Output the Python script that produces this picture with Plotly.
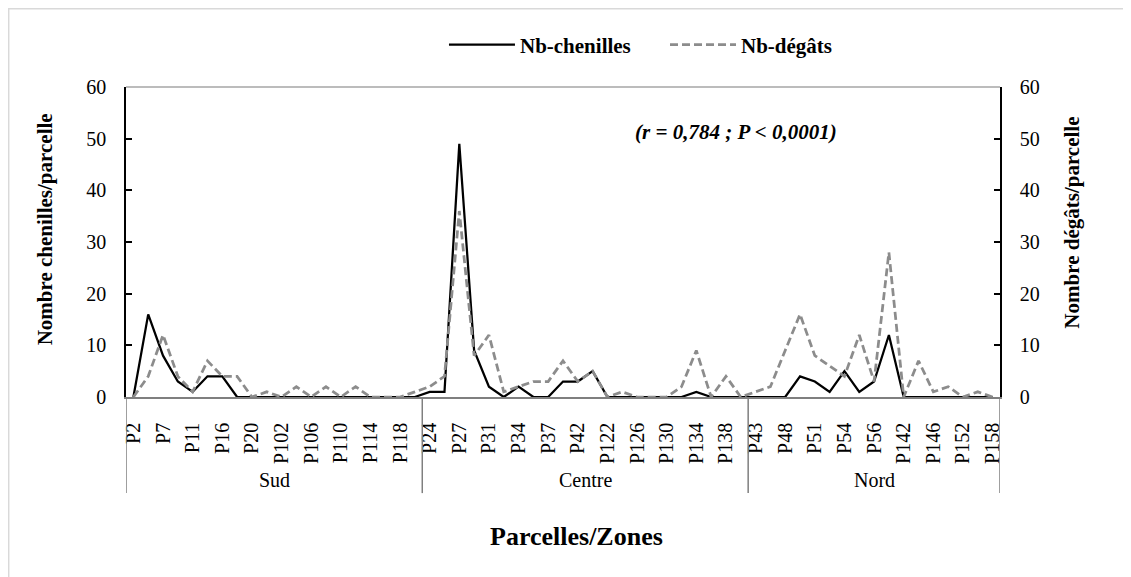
import plotly.graph_objects as go

# ---------------- data ----------------
zones = ["Sud", "Centre", "Nord"]

parcelles_sud = ["P2", "P5", "P7", "P9", "P11", "P14", "P16", "P18", "P20", "P100",
                 "P102", "P104", "P106", "P108", "P110", "P112", "P114", "P116", "P118", "P120"]
parcelles_centre = ["P24", "P26", "P27", "P29", "P31", "P33", "P34", "P36", "P37", "P40",
                    "P42", "P121", "P122", "P124", "P126", "P128", "P130", "P132", "P134",
                    "P136", "P138", "P140"]
parcelles_nord = ["P43", "P46", "P48", "P50", "P51", "P53", "P54", "P55", "P56", "P141",
                  "P142", "P144", "P146", "P150", "P152", "P155", "P158"]

chenilles_sud = [0, 16, 8, 3, 1, 4, 4, 0, 0, 0, 0, 0, 0, 0, 0, 0, 0, 0, 0, 0]
chenilles_centre = [1, 1, 49, 9, 2, 0, 2, 0, 0, 3, 3, 5, 0, 0, 0, 0, 0, 0, 1, 0, 0, 0]
chenilles_nord = [0, 0, 0, 4, 3, 1, 5, 1, 3, 12, 0, 0, 0, 0, 0, 0, 0]

degats_sud = [0, 4, 12, 4, 1, 7, 4, 4, 0, 1, 0, 2, 0, 2, 0, 2, 0, 0, 0, 1]
degats_centre = [2, 4, 36, 8, 12, 1, 2, 3, 3, 7, 3, 5, 0, 1, 0, 0, 0, 2, 9, 0, 4, 0]
degats_nord = [1, 2, 9, 16, 8, 6, 4, 12, 3, 28, 0, 7, 1, 2, 0, 1, 0]

y_ticks = [0, 10, 20, 30, 40, 50, 60]

# ---------------- build ----------------
groups = [parcelles_sud, parcelles_centre, parcelles_nord]
parcelles = parcelles_sud + parcelles_centre + parcelles_nord
chenilles = chenilles_sud + chenilles_centre + chenilles_nord
degats = degats_sud + degats_centre + degats_nord
n = len(parcelles)
xs = list(range(n))

FONT = "Liberation Serif"

fig = go.Figure()
fig.add_trace(go.Scatter(
    x=xs, y=chenilles, mode="lines", name="Nb-chenilles",
    line=dict(color="#000000", width=2.25),
    legend="legend", yaxis="y",
))
fig.add_trace(go.Scatter(
    x=xs, y=degats, mode="lines", name="Nb-dégâts",
    line=dict(color="#8c8c8c", width=2.75, dash="8px,4px"),
    legend="legend2", yaxis="y2",
))

# group boundaries
bounds = [-0.5]
for g in groups:
    bounds.append(bounds[-1] + len(g))

shapes = []
# outer chart border
shapes.append(dict(type="rect", xref="paper", yref="paper",
                   x0=-0.1342, x1=1.1453, y0=-0.62, y1=1.2524,
                   line=dict(color="#d9d9d9", width=1.5), layer="below"))
# top border of plot area
shapes.append(dict(type="line", xref="paper", yref="paper", x0=0, x1=1, y0=1, y1=1,
                   line=dict(color="#a6a6a6", width=1.5)))
# group separators
for b in bounds:
    shapes.append(dict(type="line", xref="x", yref="paper", x0=b, x1=b, y0=0, y1=-0.31,
                       line=dict(color="#7f7f7f", width=1.5)))

annotations = []
for zname, g, b0, b1 in zip(zones, groups, bounds[:-1], bounds[1:]):
    annotations.append(dict(x=(b0 + b1) / 2, y=-0.268, xref="x", yref="paper",
                            text=zname, showarrow=False,
                            font=dict(family=FONT, size=20, color="#000000"),
                            xanchor="center", yanchor="middle"))

annotations.append(dict(x=0.698, y=0.855, xref="paper", yref="paper",
                        text="<b><i>(r = 0,784 ; P < 0,0001)</i></b>", showarrow=False,
                        font=dict(family=FONT, size=21, color="#000000"),
                        xanchor="center", yanchor="middle"))
annotations.append(dict(x=0.515, y=-0.4516, xref="paper", yref="paper",
                        text="<b>Parcelles/Zones</b>", showarrow=False,
                        font=dict(family=FONT, size=26, color="#000000"),
                        xanchor="center", yanchor="middle"))
annotations.append(dict(x=-0.093, y=0.540, xref="paper", yref="paper",
                        text="<b>Nombre chenilles/parcelle</b>", showarrow=False, textangle=-90,
                        font=dict(family=FONT, size=21, color="#000000"),
                        xanchor="center", yanchor="middle"))
annotations.append(dict(x=1.083, y=0.561, xref="paper", yref="paper",
                        text="<b>Nombre dégâts/parcelle</b>", showarrow=False, textangle=-90,
                        font=dict(family=FONT, size=21, color="#000000"),
                        xanchor="center", yanchor="middle"))

tick_idx = list(range(0, n, 2))

fig.update_layout(
    width=1123, height=569, autosize=False,
    margin=dict(l=118, r=131, t=79, b=180),
    paper_bgcolor="#ffffff", plot_bgcolor="#ffffff",
    font=dict(family=FONT, size=20, color="#000000"),
    showlegend=True,
    legend=dict(orientation="h", x=0.3638, y=1.1355, xanchor="left", yanchor="middle",
                itemwidth=66,
                font=dict(family=FONT, size=21, color="#000000", weight="bold"),
                bgcolor="rgba(0,0,0,0)", borderwidth=0),
    legend2=dict(orientation="h", x=0.6167, y=1.1355, xanchor="left", yanchor="middle",
                 itemwidth=66,
                 font=dict(family=FONT, size=21, color="#000000", weight="bold"),
                 bgcolor="rgba(0,0,0,0)", borderwidth=0),
    xaxis=dict(range=[-0.5, n - 0.5], tickmode="array", tickvals=tick_idx,
               ticktext=[parcelles[i] for i in tick_idx], tickangle=-90,
               showgrid=False, zeroline=False, showline=True, linecolor="#7f7f7f",
               linewidth=1.5, ticks="", ticklabelstandoff=16,
               tickfont=dict(family=FONT, size=20, color="#000000")),
    yaxis=dict(range=[0, 60], tickmode="array", tickvals=y_ticks,
               showgrid=False, zeroline=False, showline=True, linecolor="#000000",
               linewidth=1.5, ticks="inside", ticklen=6, tickwidth=1.5, tickcolor="#000000",
               ticklabelstandoff=14,
               tickfont=dict(family=FONT, size=20, color="#000000")),
    yaxis2=dict(range=[0, 60], tickmode="array", tickvals=y_ticks, overlaying="y",
                side="right", showgrid=False, zeroline=False, showline=True,
                linecolor="#000000", linewidth=1.5, ticks="inside", ticklen=6,
                tickwidth=1.5, tickcolor="#000000", ticklabelstandoff=14,
                tickfont=dict(family=FONT, size=20, color="#000000")),
    shapes=shapes,
    annotations=annotations,
)

fig.write_html("out.html")
